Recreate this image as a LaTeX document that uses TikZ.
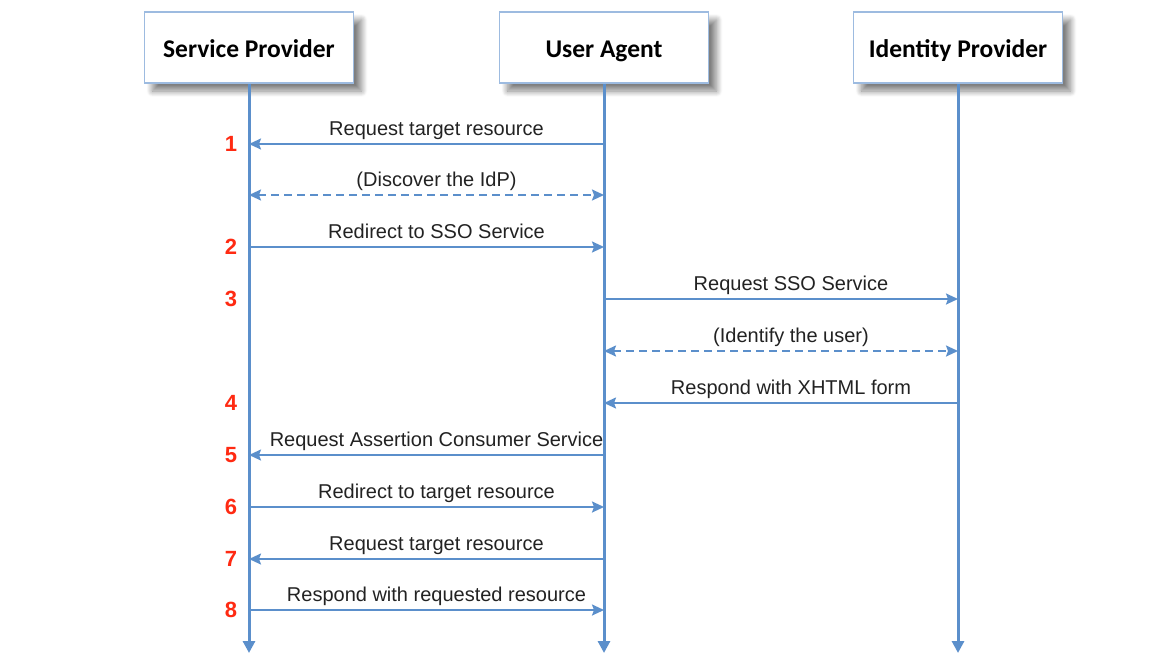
\documentclass[tikz,border=0pt]{standalone}
\usepackage{fontspec}
\setmainfont{Liberation Sans}
\newfontfamily\boxfont{Carlito}
\usetikzlibrary{arrows.meta}
\usetikzlibrary{shadows.blur}

\definecolor{lineblue}{HTML}{5B8FCB}
\definecolor{boxblue}{HTML}{9DBBE0}
\definecolor{numred}{HTML}{FF2A12}
\definecolor{txtgray}{HTML}{222222}

\tikzset{
actor/.style={draw=boxblue, line width=1.5pt, fill=white, minimum width=209pt, minimum height=71pt,
  font=\boxfont\bfseries\fontsize{25.5}{30}\selectfont, text=black, text height=21pt, text depth=0pt,
  blur shadow={shadow xshift=8pt, shadow yshift=-8pt, shadow blur steps=12, shadow blur radius=6pt, shadow opacity=50}},
lifeline/.style={draw=lineblue, line width=3pt, -{Triangle[length=12pt,width=12pt]}},
msg/.style={draw=lineblue, line width=2pt, -{Stealth[length=12pt,width=11pt,inset=2pt]}},
dmsg/.style={msg, {Stealth[length=12pt,width=11pt,inset=2pt]}-{Stealth[length=12pt,width=11pt,inset=2pt]}, dash pattern=on 8pt off 5pt},
lbl/.style={anchor=base, yshift=9pt, xshift=10pt, text=txtgray, font=\fontsize{20}{24}\selectfont},
num/.style={text=numred, font=\bfseries\fontsize{22}{26}\selectfont}
}

\begin{document}
\begin{tikzpicture}[x=1pt,y=-1pt]
\useasboundingbox (0,0) rectangle (1174,669);
% actors
\node[actor] (sp) at (249,47.5) {Service Provider};
\node[actor] (ua) at (604,47.5) {User Agent};
\node[actor] (idp) at (958,47.5) {Identity Provider};
% lifeline ends
\coordinate (spend) at (249,653);
\coordinate (uaend) at (604,653);
\coordinate (idpend) at (958,653);
\draw[lifeline] (sp.south) -- (spend);
\draw[lifeline] (ua.south) -- (uaend);
\draw[lifeline] (idp.south) -- (idpend);
% message points on the lifelines
\foreach \y [count=\i] in {144,195,247,299,351,403,455,507,559,610} {
  \coordinate (sp\i) at (249,\y);
  \coordinate (ua\i) at (604,\y);
  \coordinate (idp\i) at (958,\y);
}
% draws messages
\draw[msg] (ua1) -- node[lbl] {Request target resource} (sp1);
\draw[dmsg] (sp2) -- node[lbl] {(Discover the IdP)} (ua2);
\draw[msg] (sp3) -- node[lbl] {Redirect to SSO Service} (ua3);
\draw[msg] (ua4) -- node[lbl] {Request SSO Service} (idp4);
\draw[dmsg] (ua5) -- node[lbl] {(Identify the user)} (idp5);
\draw[msg] (idp6) -- node[lbl] {Respond with XHTML form} (ua6);
\draw[msg] (ua7) -- node[lbl] {Request Assertion Consumer Service} (sp7);
\draw[msg] (sp8) -- node[lbl] {Redirect to target resource} (ua8);
\draw[msg] (ua9) -- node[lbl] {Request target resource} (sp9);
\draw[msg] (sp10) -- node[lbl] {Respond with requested resource} (ua10);
% step numbers
\node[num] (n1) at (231,144) {1};
\node[num] (n2) at (231,247) {2};
\node[num] (n3) at (231,299) {3};
\node[num] (n4) at (231,403) {4};
\node[num] (n5) at (231,455) {5};
\node[num] (n6) at (231,507) {6};
\node[num] (n7) at (231,559) {7};
\node[num] (n8) at (231,610) {8};
\end{tikzpicture}
\end{document}
